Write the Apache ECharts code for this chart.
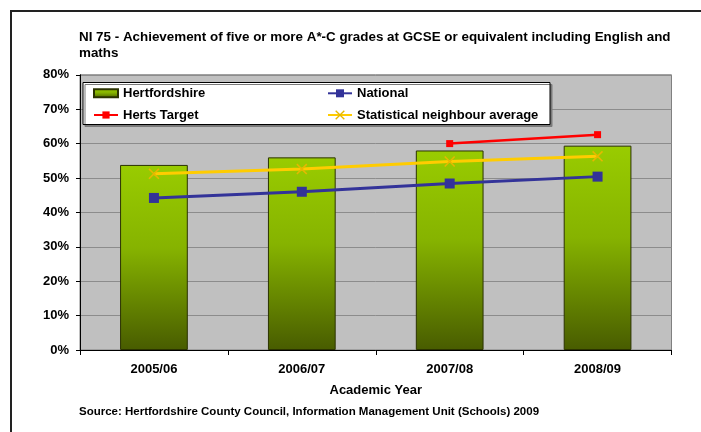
<!DOCTYPE html>
<html>
<head>
<meta charset="utf-8">
<script src="https://cdn.jsdelivr.net/npm/echarts@6/dist/echarts.min.js"></script>
<style>
  html, body { margin: 0; padding: 0; background: #fff; }
  #chart { width: 701px; height: 432px; }
</style>
</head>
<body>
<div id="chart"></div>
<script>
// Academic years on the category axis
const categories = ['2005/06', '2006/07', '2007/08', '2008/09'];
// Percentage of pupils achieving 5+ A*-C incl. English and maths
const hertfordshire = [53.8, 56.0, 58.0, 59.4];
const national = [44.2, 46.0, 48.4, 50.4];
const hertsTarget = [null, null, 60.0, 62.6];
const statNeighbour = [51.2, 52.6, 54.8, 56.3];
// Value axis ticks
const yTicks = { min: 0, max: 80, interval: 10 };

const FONT = "'Liberation Sans', Arial, Helvetica, sans-serif";
const crossPath = 'path://M0,1L1,0L5,4L9,0L10,1L6,5L10,9L9,10L5,6L1,10L0,9L4,5Z';

const legendBase = {
  orient: 'horizontal',
  padding: 0,
  itemWidth: 24,
  selectedMode: false,
  textStyle: { fontFamily: FONT, fontSize: 13, fontWeight: 'bold', color: '#000', lineHeight: 16 }
};

const chart = echarts.init(document.getElementById('chart'), null, { renderer: 'canvas' });
chart.setOption({
  backgroundColor: '#ffffff',
  animation: false,
  title: {
    text: 'NI 75 - Achievement of five or more A*-C grades at GCSE or equivalent including English and\nmaths',
    left: 79,
    top: 29,
    padding: 0,
    textStyle: { fontFamily: FONT, fontSize: 13.4, fontWeight: 'bold', color: '#000', lineHeight: 16 }
  },
  legend: [
    Object.assign({}, legendBase, { data: [{ name: 'Hertfordshire', icon: 'rect' }], left: 93, top: 85.3, itemHeight: 8 }),
    Object.assign({}, legendBase, { data: ['National'], left: 327, top: 85.3, itemHeight: 10 }),
    Object.assign({}, legendBase, { data: ['Herts Target'], left: 93, top: 107, itemHeight: 9 }),
    Object.assign({}, legendBase, { data: ['Statistical neighbour average'], left: 327, top: 107, itemHeight: 12 })
  ],
  graphic: [
    {
      type: 'rect', z: 1,
      shape: { x: 11, y: 11, width: 760, height: 500 },
      style: { fill: 'transparent', stroke: '#222', lineWidth: 2 }
    },
    {
      type: 'rect', z: 3,
      shape: { x: 83, y: 82.5, width: 467, height: 42 },
      style: { fill: '#fff', stroke: '#000', lineWidth: 1, shadowColor: '#7a7a7a', shadowOffsetX: 2, shadowOffsetY: 2, shadowBlur: 0 }
    },
    {
      type: 'text', z: 3,
      left: 79, top: 406,
      style: {
        text: 'Source: Hertfordshire County Council, Information Management Unit (Schools) 2009',
        font: 'bold 11.5px ' + FONT,
        fill: '#000'
      }
    }
  ],
  grid: {
    left: 80, right: 29.5, top: 74.8, bottom: 82,
    show: true, backgroundColor: '#c0c0c0', borderColor: '#808080', borderWidth: 1
  },
  xAxis: {
    type: 'category',
    data: categories,
    boundaryGap: true,
    name: 'Academic Year',
    nameLocation: 'middle',
    nameGap: 34,
    nameTextStyle: { fontFamily: FONT, fontSize: 13, fontWeight: 'bold', color: '#000' },
    axisLine: { show: true, lineStyle: { color: '#000', width: 1 } },
    axisTick: { show: true, length: 5, lineStyle: { color: '#000' } },
    axisLabel: { margin: 13, fontFamily: FONT, fontSize: 13, fontWeight: 'bold', color: '#000' },
    splitLine: { show: false }
  },
  yAxis: {
    type: 'value',
    min: yTicks.min, max: yTicks.max, interval: yTicks.interval,
    axisLine: { show: true, lineStyle: { color: '#000', width: 1 } },
    axisTick: { show: true, length: 4, lineStyle: { color: '#000' } },
    axisLabel: { margin: 11, formatter: '{value}%', fontFamily: FONT, fontSize: 13, fontWeight: 'bold', color: '#000' },
    splitLine: { show: true, lineStyle: { color: '#8c8c8c', width: 1 } }
  },
  series: [
    {
      name: 'Hertfordshire',
      type: 'bar',
      data: hertfordshire,
      barWidth: '45.8%',
      itemStyle: {
        color: new echarts.graphic.LinearGradient(0, 0, 0, 1, [
          { offset: 0, color: '#99cc00' },
          { offset: 0.45, color: '#86b300' },
          { offset: 1, color: '#485c00' }
        ]),
        borderColor: '#2b3300',
        borderWidth: 1
      }
    },
    {
      name: 'National',
      type: 'line',
      data: national,
      symbol: 'rect',
      symbolSize: 10,
      lineStyle: { color: '#333399', width: 3 },
      itemStyle: { color: '#333399' },
      z: 4
    },
    {
      name: 'Herts Target',
      type: 'line',
      data: hertsTarget,
      symbol: 'rect',
      symbolSize: 7,
      lineStyle: { color: '#ff0000', width: 2.5 },
      itemStyle: { color: '#ff0000' },
      z: 4
    },
    {
      name: 'Statistical neighbour average',
      type: 'line',
      data: statNeighbour,
      symbol: crossPath,
      symbolSize: 11,
      lineStyle: { color: '#ffcc00', width: 3 },
      itemStyle: { color: '#e6b800' },
      z: 3
    }
  ]
});
</script>
</body>
</html>
